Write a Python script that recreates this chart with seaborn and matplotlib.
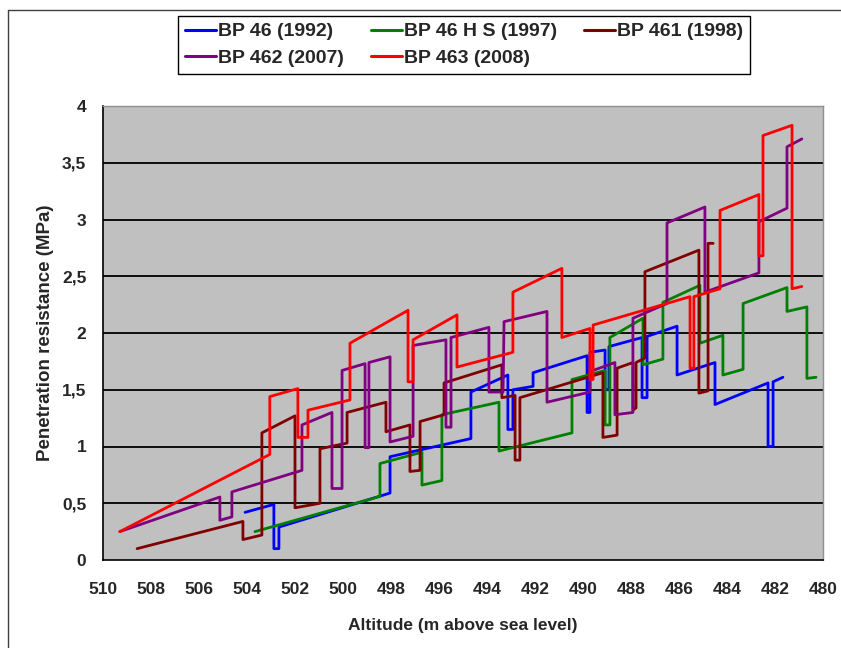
import pandas as pd
import matplotlib
matplotlib.use("Agg")
import matplotlib.pyplot as plt
import seaborn as sns
from matplotlib.lines import Line2D

# Penetration resistance profiles (altitude in m, resistance in MPa)
blue_x = [504.08, 502.88, 502.88, 502.67, 502.67, 498.04, 498.04, 494.67, 494.67, 493.13,
          493.13, 492.92, 492.92, 492.08, 492.08, 489.83, 489.83, 489.71, 489.71, 489.08,
          489.08, 488.92, 488.92, 487.54, 487.54, 487.33, 487.33, 486.08, 486.08, 484.5,
          484.5, 482.29, 482.29, 482.08, 482.08, 481.67]
blue_y = [0.42, 0.49, 0.10, 0.10, 0.29, 0.59, 0.91, 1.07, 1.48, 1.63,
          1.15, 1.15, 1.50, 1.53, 1.65, 1.80, 1.30, 1.30, 1.83, 1.85,
          1.50, 1.50, 1.88, 1.96, 1.43, 1.43, 1.97, 2.06, 1.63, 1.74,
          1.37, 1.56, 1.00, 1.00, 1.57, 1.61]

green_x = [503.67, 498.46, 498.46, 496.71, 496.71, 495.88, 495.88, 493.5, 493.5, 490.46,
           490.46, 489.08, 489.08, 488.88, 488.88, 487.5, 487.5, 486.67, 486.67, 485.13,
           485.13, 484.17, 484.17, 483.33, 483.33, 481.5, 481.5, 480.67, 480.67, 480.29]
green_y = [0.25, 0.56, 0.85, 0.95, 0.66, 0.70, 1.28, 1.39, 0.96, 1.12,
           1.59, 1.67, 1.19, 1.19, 1.96, 2.13, 1.72, 1.77, 2.27, 2.42,
           1.91, 1.98, 1.63, 1.68, 2.26, 2.40, 2.19, 2.23, 1.60, 1.61]

darkred_x = [508.58, 504.17, 504.17, 503.38, 503.38, 502.0, 502.0, 500.96, 500.96, 499.83,
             499.83, 498.21, 498.21, 497.21, 497.21, 496.79, 496.79, 495.79, 495.79, 493.38,
             493.38, 492.83, 492.83, 492.63, 492.63, 489.17, 489.17, 488.58, 488.58, 487.92,
             487.92, 487.79, 487.79, 487.42, 487.42, 485.17, 485.17, 484.79, 484.79, 484.58]
darkred_y = [0.10, 0.34, 0.18, 0.22, 1.12, 1.27, 0.46, 0.50, 0.98, 1.03,
             1.30, 1.39, 1.13, 1.19, 0.78, 0.79, 1.22, 1.28, 1.56, 1.72,
             1.43, 1.45, 0.88, 0.88, 1.43, 1.65, 1.08, 1.10, 1.69, 1.74,
             1.32, 1.34, 1.74, 1.78, 2.54, 2.73, 1.47, 1.49, 2.79, 2.79]

purple_x = [509.3, 505.13, 505.13, 504.63, 504.63, 501.71, 501.71, 500.46, 500.46, 500.04,
            500.04, 499.08, 499.08, 498.92, 498.92, 498.04, 498.04, 497.08, 497.08, 495.71,
            495.71, 495.5, 495.5, 493.92, 493.92, 493.33, 493.29, 491.5, 491.5, 489.71,
            489.71, 488.67, 488.67, 487.92, 487.92, 486.5, 486.5, 484.92, 484.92, 482.67,
            482.67, 481.5, 481.5, 480.88]
purple_y = [0.25, 0.555, 0.35, 0.38, 0.60, 0.79, 1.19, 1.30, 0.63, 0.63,
            1.67, 1.73, 0.99, 0.99, 1.74, 1.79, 1.04, 1.09, 1.89, 1.94,
            1.17, 1.17, 1.96, 2.05, 1.48, 1.48, 2.10, 2.19, 1.39, 1.48,
            1.66, 1.74, 1.28, 1.30, 2.13, 2.26, 2.97, 3.11, 2.36, 2.53,
            2.98, 3.10, 3.64, 3.71]

red_x = [509.3, 503.05, 503.05, 501.88, 501.88, 501.46, 501.46, 499.71, 499.71, 497.29,
         497.29, 497.08, 497.08, 495.25, 495.25, 492.92, 492.92, 490.88, 490.88, 489.71,
         489.71, 489.58, 489.58, 485.54, 485.54, 485.38, 485.38, 484.29, 484.29, 482.67,
         482.67, 482.5, 482.5, 481.29, 481.29, 480.88]
red_y = [0.25, 0.93, 1.44, 1.51, 1.08, 1.08, 1.32, 1.41, 1.91, 2.20,
         1.57, 1.57, 1.94, 2.16, 1.70, 1.83, 2.36, 2.57, 1.96, 2.04,
         1.59, 1.59, 2.07, 2.32, 1.69, 1.69, 2.32, 2.39, 3.08, 3.22,
         2.68, 2.68, 3.74, 3.83, 2.39, 2.41]

series_names = ["BP 46 (1992)", "BP 46 H S (1997)", "BP 461 (1998)", "BP 462 (2007)", "BP 463 (2008)"]
series_colors = ["#0000FF", "#008000", "#800000", "#800080", "#FF0000"]
x_ticks = list(range(510, 479, -2))
y_ticks = [0, 0.5, 1, 1.5, 2, 2.5, 3, 3.5, 4]
y_tick_labels = ["0", "0,5", "1", "1,5", "2", "2,5", "3", "3,5", "4"]

all_x = [blue_x, green_x, darkred_x, purple_x, red_x]
all_y = [blue_y, green_y, darkred_y, purple_y, red_y]
frames = []
for name, xs, ys in zip(series_names, all_x, all_y):
    frames.append(pd.DataFrame({"altitude": xs, "resistance": ys, "series": name}))
df = pd.concat(frames, ignore_index=True)

sns.set_style("white")
plt.rcParams["font.family"] = ["Liberation Sans", "DejaVu Sans"]
plt.rcParams["font.weight"] = "bold"

fig = plt.figure(figsize=(8.41, 6.48), dpi=100)
ax = fig.add_axes([103 / 841, 1 - 560 / 648, 720 / 841, 454 / 648])
ax.set_facecolor("#C0C0C0")

# horizontal grid lines like Excel
for yv in y_ticks[1:-1]:
    ax.axhline(yv, color="black", lw=1.3, zorder=1)

sns.lineplot(data=df, x="altitude", y="resistance", hue="series",
             palette=dict(zip(series_names, series_colors)),
             sort=False, estimator=None, lw=2.0, ax=ax, legend=False, zorder=3)

ax.set_xlim(510, 480)
ax.set_ylim(0, 4)
ax.set_xticks(x_ticks)
ax.set_xticklabels([str(t) for t in x_ticks], fontsize=12.5, fontweight="bold")
ax.set_yticks(y_ticks)
ax.set_yticklabels(y_tick_labels, fontsize=12.5, fontweight="bold")
ax.tick_params(axis="x", direction="out", length=6, width=1, color="black", pad=10)
ax.tick_params(axis="y", direction="out", length=6, width=1, color="black", pad=6)

for side in ["left", "bottom"]:
    ax.spines[side].set_color("black")
    ax.spines[side].set_linewidth(1.2)
for side in ["top", "right"]:
    ax.spines[side].set_color("#909090")
    ax.spines[side].set_linewidth(1.0)

ax.set_xlabel("Altitude (m above sea level)", fontsize=12.5, fontweight="bold")
ax.set_ylabel("Penetration resistance (MPa)", fontsize=13.5, fontweight="bold", va="center")
ax.xaxis.set_label_coords(0.5, -0.127)
ax.yaxis.set_label_coords(-0.08, 0.5)

# legend laid out row by row (3 columns)
handles = [Line2D([0], [0], color=c, lw=2.2) for c in series_colors]
order = [0, 3, 1, 4, 2]
leg = ax.legend([handles[i] for i in order], [series_names[i] for i in order],
                ncol=3, loc="upper left", bbox_to_anchor=(178 / 841, 1 - 16 / 648),
                bbox_transform=fig.transFigure, borderaxespad=0, frameon=True, fancybox=False,
                edgecolor="black", framealpha=1, borderpad=0.35, handlelength=1.6,
                handletextpad=0.1, columnspacing=1.4, labelspacing=0.45,
                prop={"size": 14, "weight": "bold"})
leg.get_frame().set_linewidth(1.0)

# chart area border
fig.add_artist(Line2D([8 / 841, 8 / 841], [0, 1 - 10 / 648], transform=fig.transFigure, color="#404040", lw=1))
fig.add_artist(Line2D([8 / 841, 1], [1 - 10 / 648, 1 - 10 / 648], transform=fig.transFigure, color="#404040", lw=1))

fig.savefig("out.png", dpi=100)
